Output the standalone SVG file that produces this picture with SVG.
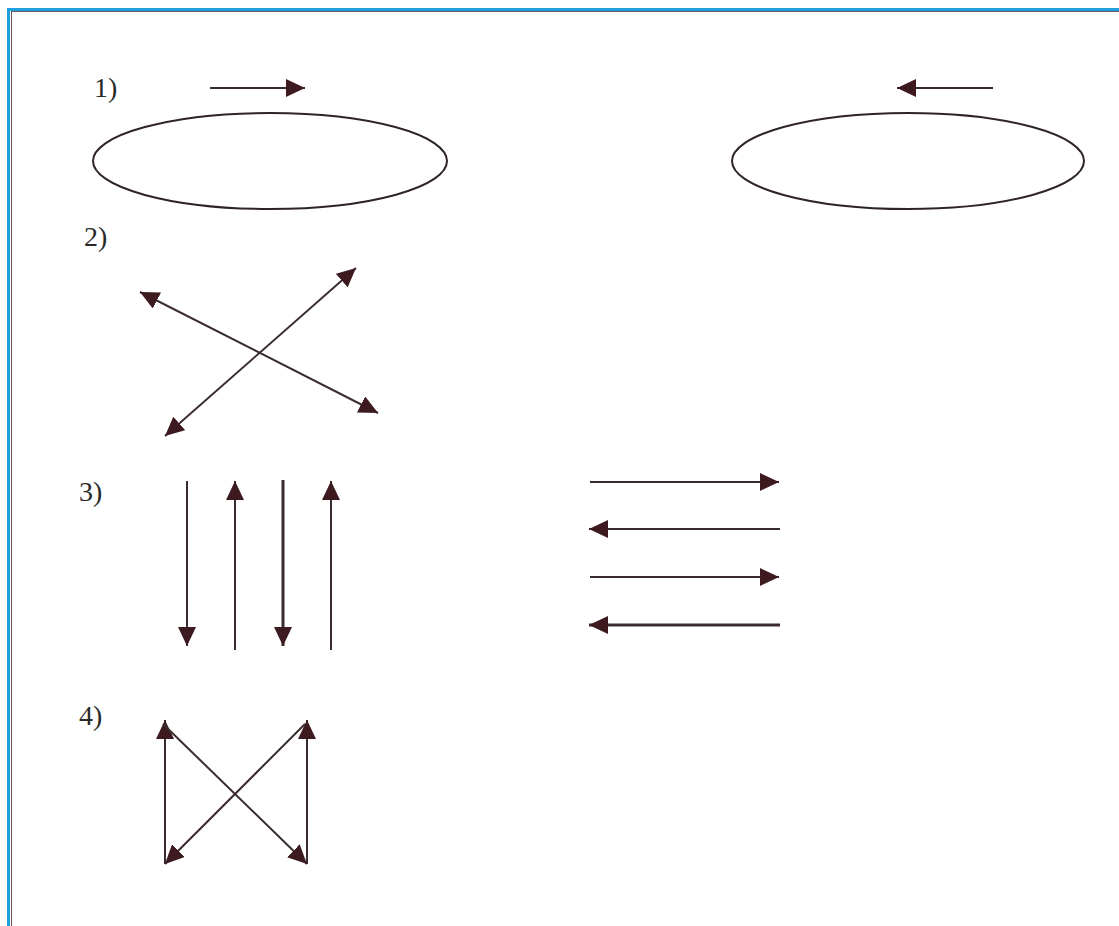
<svg xmlns="http://www.w3.org/2000/svg" width="1119" height="926" viewBox="0 0 1119 926">
<style>
.ln{stroke:#3a2c2e;stroke-width:2;fill:none}
.lbl{font-family:"Liberation Serif",serif;font-size:28px;fill:#2a2a2a}
.ell{stroke:#2e2426;stroke-width:2;fill:none}
</style>
<defs>
<marker id="ah" markerUnits="userSpaceOnUse" markerWidth="20" markerHeight="18" refX="19" refY="9" orient="auto-start-reverse" viewBox="0 0 20 18">
<path d="M0,0 L19,9 L0,18 z" fill="#3d1a20"/>
</marker>
</defs>
<rect width="1119" height="926" fill="#ffffff"/>
<g id="frame">
<rect x="7" y="8" width="1112" height="3" fill="#1ea0dc"/>
<rect x="7" y="8" width="3" height="918" fill="#1ea0dc"/>
<line x1="11" y1="11.5" x2="1119" y2="11.5" stroke="#6a5a5c" stroke-width="1"/>
<line x1="11.5" y1="11" x2="11.5" y2="926" stroke="#6a5a5c" stroke-width="1"/>
</g>
<g id="labels">
<text class="lbl" x="94" y="97">1)</text>
<text class="lbl" x="84" y="246">2)</text>
<text class="lbl" x="79" y="501">3)</text>
<text class="lbl" x="79" y="725">4)</text>
</g>
<g id="ellipse1"><ellipse class="ell" cx="270" cy="161" rx="177" ry="48"/></g>
<g id="ellipse2"><ellipse class="ell" cx="908" cy="161" rx="176" ry="48"/></g>
<g id="connectors">
<line class="ln" x1="210" y1="88" x2="305" y2="88" marker-end="url(#ah)"/>
<line class="ln" x1="993" y1="88" x2="897" y2="88" marker-end="url(#ah)"/>
<line class="ln" x1="140" y1="292" x2="378" y2="413" marker-start="url(#ah)" marker-end="url(#ah)"/>
<line class="ln" x1="165" y1="436" x2="356" y2="268" marker-start="url(#ah)" marker-end="url(#ah)"/>
<line class="ln" x1="187" y1="481" x2="187" y2="646" marker-end="url(#ah)"/>
<line class="ln" x1="235" y1="650" x2="235" y2="481" marker-end="url(#ah)"/>
<line class="ln" x1="283" y1="480" x2="283" y2="646" marker-end="url(#ah)" style="stroke-width:3"/>
<line class="ln" x1="331" y1="650" x2="331" y2="481" marker-end="url(#ah)"/>
<line class="ln" x1="590" y1="482" x2="779" y2="482" marker-end="url(#ah)"/>
<line class="ln" x1="780" y1="529" x2="589" y2="529" marker-end="url(#ah)"/>
<line class="ln" x1="590" y1="577" x2="779" y2="577" marker-end="url(#ah)"/>
<line class="ln" x1="780" y1="625" x2="589" y2="625" marker-end="url(#ah)" style="stroke-width:3"/>
<line class="ln" x1="165" y1="864" x2="165" y2="720" marker-end="url(#ah)"/>
<line class="ln" x1="307" y1="864" x2="307" y2="720" marker-end="url(#ah)"/>
<line class="ln" x1="163" y1="724" x2="307" y2="864" marker-end="url(#ah)"/>
<line class="ln" x1="305" y1="724" x2="165" y2="864" marker-end="url(#ah)"/>
</g>
</svg>
